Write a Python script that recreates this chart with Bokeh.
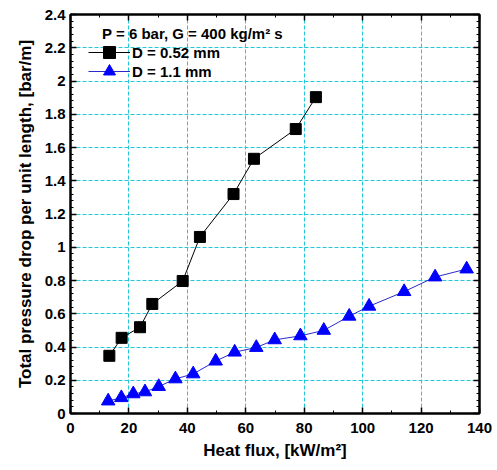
from bokeh.plotting import figure
from bokeh.models import (Range1d, FixedTicker, LinearAxis, Legend, LegendItem,
                          CustomJSTickFormatter, Label)
from bokeh.embed import file_html
from bokeh.resources import INLINE

# Data
x_052 = [13.3, 17.5, 23.8, 28.0, 38.4, 44.3, 55.8, 62.8, 77.1, 84.0]
y_052 = [0.347, 0.455, 0.519, 0.659, 0.797, 1.062, 1.320, 1.532, 1.711, 1.903]

x_11 = [12.9, 17.4, 21.5, 25.5, 30.2, 35.9, 42.0, 49.7, 56.2, 63.6, 69.9,
        78.7, 86.7, 95.4, 102.2, 114.2, 124.8, 135.6]
y_11 = [0.075, 0.095, 0.118, 0.130, 0.162, 0.208, 0.238, 0.315, 0.369, 0.397,
        0.443, 0.467, 0.500, 0.585, 0.645, 0.733, 0.821, 0.869]

x_ticks = [0, 20, 40, 60, 80, 100, 120, 140]
x_minor = list(range(0, 141, 10))
y_ticks = [0, 0.2, 0.4, 0.6, 0.8, 1.0, 1.2, 1.4, 1.6, 1.8, 2.0, 2.2, 2.4]
y_minor = [round(i * 0.04, 2) for i in range(61)]

legend_title = "P = 6 bar, G = 400 kg/m\u00b2 s"
label_052 = "D = 0.52 mm"
label_11 = "D = 1.1 mm"
x_label = "Heat flux, [kW/m\u00b2]"
y_label = "Total pressure drop per unit length, [bar/m]"

FONT = "Liberation Sans"
GRID = "#22c8d8"

p = figure(width=497, height=470, output_backend="svg", toolbar_location=None,
           x_range=Range1d(0, 140), y_range=Range1d(0, 2.4),
           min_border_left=70, min_border_right=18, min_border_top=14,
           min_border_bottom=57)
p.background_fill_color = "white"
p.border_fill_color = "white"
p.outline_line_color = "black"
p.outline_line_width = 2

xt = FixedTicker(ticks=x_ticks, minor_ticks=x_minor)
yt = FixedTicker(ticks=y_ticks, minor_ticks=y_minor)
fmt = CustomJSTickFormatter(code="return String(parseFloat(tick.toFixed(2)));")
blank = CustomJSTickFormatter(code="return '';")

def style_axis(ax):
    ax.axis_line_color = "black"
    ax.axis_line_width = 2
    ax.major_tick_in = 6
    ax.major_tick_out = 0
    ax.minor_tick_in = 3
    ax.minor_tick_out = 0
    ax.major_tick_line_color = "black"
    ax.minor_tick_line_color = "black"
    ax.major_tick_line_width = 1.5
    ax.minor_tick_line_width = 1
    ax.major_label_text_font = FONT
    ax.major_label_text_font_style = "bold"
    ax.major_label_text_font_size = "15px"
    ax.major_label_text_color = "black"
    ax.axis_label_text_font = FONT
    ax.axis_label_text_font_style = "bold"
    ax.axis_label_text_font_size = "17px"
    ax.axis_label_text_color = "black"

p.xaxis.ticker = xt
p.yaxis.ticker = yt
p.yaxis.formatter = fmt
style_axis(p.xaxis[0])
style_axis(p.yaxis[0])
p.xaxis.axis_label = x_label
p.yaxis.axis_label = y_label
p.xaxis.major_label_standoff = 9
p.yaxis.major_label_standoff = 5
p.xaxis.axis_label_standoff = 5
p.yaxis.axis_label_standoff = 7

ax_r = LinearAxis(ticker=yt, formatter=blank)
style_axis(ax_r)
ax_r.major_label_standoff = 0
p.add_layout(ax_r, "right")
ax_t = LinearAxis(ticker=xt, formatter=blank)
style_axis(ax_t)
ax_t.major_label_standoff = 0
p.add_layout(ax_t, "above")

p.xgrid.ticker = xt
p.ygrid.ticker = yt
for g in (p.xgrid, p.ygrid):
    g.grid_line_color = GRID
    g.grid_line_dash = "4 2"
    g.grid_line_width = 1

l1 = p.line(x_052, y_052, line_color="black", line_width=1)
m1 = p.scatter(x_052, y_052, marker="square", size=11, fill_color="black",
               line_color="black")
l2 = p.line(x_11, y_11, line_color="#2a2ac8", line_width=1)
m2 = p.scatter(x_11, y_11, marker="triangle", size=13.5, fill_color="#0000ff",
               line_color="#0000ff")

def make_legend(label, renderers, loc):
    lg = Legend(items=[LegendItem(label=label, renderers=renderers)],
                location=loc)
    lg.label_text_font = FONT
    lg.label_text_font_style = "bold"
    lg.label_text_font_size = "15px"
    lg.label_text_color = "black"
    lg.glyph_width = 42
    lg.glyph_height = 30
    lg.label_height = 30
    lg.label_standoff = 2
    lg.spacing = 0
    lg.padding = 0
    lg.margin = 0
    lg.border_line_color = None
    lg.background_fill_alpha = 0
    return lg

p.add_layout(make_legend(label_052, [l1, m1], (18, 346)))
p.add_layout(make_legend(label_11, [l2, m2], (18, 327)))

title = Label(x=10.8, y=2.286, text=legend_title, text_font=FONT,
              text_font_style="bold", text_font_size="15px",
              text_baseline="middle", text_align="left", text_color="black")
p.add_layout(title)

open("out.html", "w").write(file_html(p, INLINE))
